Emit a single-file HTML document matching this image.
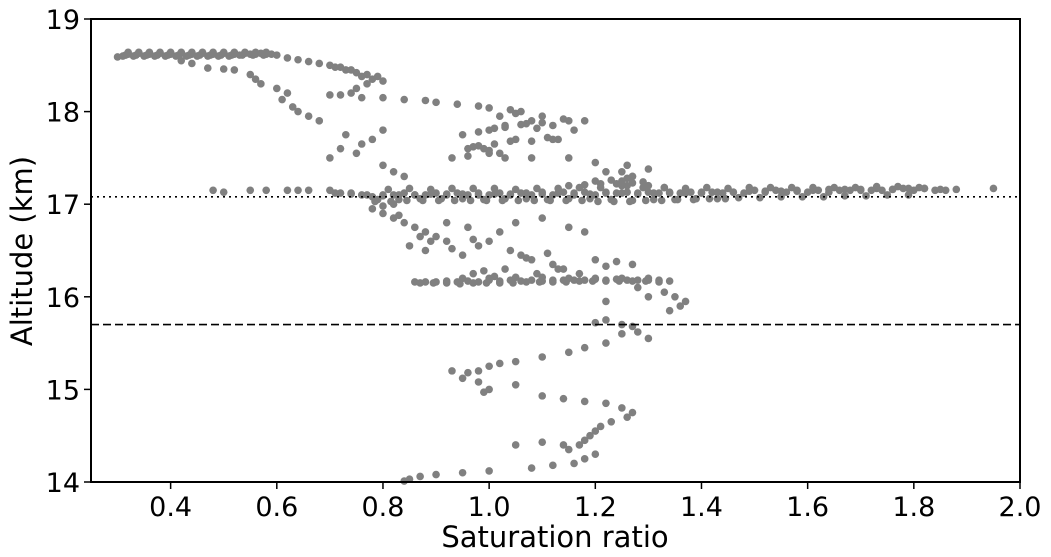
<!DOCTYPE html>
<html><head><meta charset="utf-8"><style>
body{margin:0;background:#fff;}
svg{display:block;font-family:"DejaVu Sans","Liberation Sans",sans-serif;}
</style></head><body>
<svg id="chart" width="1051" height="557">
<rect x="91" y="19" width="929" height="463" fill="#fff"/>
<g id="points"></g>
<g id="ref"></g>
<rect x="91" y="19" width="929" height="463" fill="none" stroke="#000" stroke-width="2"/>
<g id="xt"></g>
<g id="yt"></g>
<text x="555" y="547" font-size="29" text-anchor="middle">Saturation ratio</text>
<text transform="translate(32,251) rotate(-90)" font-size="29" text-anchor="middle">Altitude (km)</text>
</svg>
<script>
const xTicks=[0.4,0.6,0.8,1.0,1.2,1.4,1.6,1.8,2.0];
const xTickLabels=["0.4","0.6","0.8","1.0","1.2","1.4","1.6","1.8","2.0"];
const yTicks=[14,15,16,17,18,19];
const tropopauseAlt=17.08;
const lowerAlt=15.70;
const topBandX=[0.30,0.31,0.32,0.33,0.34,0.35,0.36,0.37,0.38,0.39,0.40,0.41,0.42,0.43,0.44,0.45,0.46,0.47,0.48,0.49,0.50,0.51,0.52,0.53,0.54,0.55,0.56,0.57,0.58,0.59,0.60,0.32,0.34,0.36,0.38,0.40,0.42,0.44,0.46,0.48,0.50,0.52,0.54,0.56,0.58,0.315,0.335,0.355,0.375,0.395,0.415,0.435,0.455,0.475,0.495,0.515,0.535,0.555,0.575];
const topBandY=[18.59,18.6,18.62,18.6,18.63,18.6,18.62,18.6,18.63,18.6,18.62,18.6,18.63,18.6,18.62,18.6,18.63,18.6,18.62,18.6,18.63,18.6,18.62,18.61,18.63,18.62,18.62,18.63,18.62,18.62,18.61,18.64,18.64,18.64,18.64,18.64,18.64,18.64,18.64,18.64,18.64,18.64,18.64,18.64,18.64,18.61,18.61,18.61,18.61,18.61,18.61,18.61,18.61,18.61,18.61,18.61,18.61,18.61,18.61];
const upperX=[0.42,0.44,0.47,0.50,0.52,0.55,0.56,0.57,0.60,0.62,0.61,0.63,0.64,0.66,0.68,0.62,0.64,0.66,0.68,0.70,0.72,0.73,0.75,0.76,0.78,0.80,0.77,0.75,0.74,0.72,0.70,0.76,0.80,0.84,0.88,0.90,0.94,0.98,1.00,1.04,1.06,1.10,1.14,1.18,0.95,0.98,1.00,1.03,1.06,1.10,1.15,0.96,0.98,1.00,1.02,1.05,1.08,1.12,0.93,0.96,1.00,1.03,1.08,1.15,1.20,1.26,1.30,0.72,0.75,0.78,0.80,0.73,0.76,0.70,0.80,0.82,0.84,1.02,1.05,1.08,1.12,1.16,1.25,1.27,0.71,0.74,0.77,0.79,1.01,1.03,1.07,1.09,1.11,1.13,0.97,0.99,1.01,1.04];
const upperY=[18.55,18.52,18.47,18.46,18.45,18.40,18.35,18.30,18.25,18.20,18.13,18.05,18.00,17.95,17.90,18.58,18.56,18.54,18.52,18.50,18.48,18.45,18.42,18.38,18.35,18.33,18.30,18.25,18.20,18.18,18.18,18.15,18.15,18.13,18.12,18.10,18.08,18.06,18.04,18.02,18.00,17.95,17.92,17.90,17.75,17.78,17.80,17.83,17.86,17.88,17.90,17.60,17.63,17.58,17.55,17.70,17.68,17.70,17.50,17.52,17.55,17.50,17.50,17.50,17.45,17.42,17.38,17.60,17.55,17.70,17.80,17.75,17.65,17.50,17.42,17.35,17.30,17.95,17.98,17.9,17.85,17.8,17.35,17.3,18.48,18.45,18.4,18.38,17.82,17.85,17.87,17.82,17.72,17.7,17.62,17.6,17.65,17.68];
const midBandX=[0.48,0.50,0.55,0.58,0.62,0.64,0.66,0.70,0.72,0.74,0.76,0.78,0.80,0.82,0.84,0.86,0.88,0.90,0.92,0.94,0.96,0.98,1.00,1.02,1.04,1.06,1.08,1.10,1.12,1.14,1.16,1.18,1.20,1.22,1.24,1.26,1.28,1.30,1.32,1.34,1.36,1.38,1.40,1.42,1.44,1.46,1.48,1.50,1.52,1.54,1.56,1.58,1.60,1.62,1.64,1.66,1.68,1.70,1.72,1.74,1.76,1.78,1.80,1.82,1.84,1.86,1.88,1.95,0.79,0.83,0.87,0.91,0.95,0.99,1.03,1.07,1.11,1.15,1.19,1.23,1.27,1.31,1.35,1.39,1.43,1.47,1.51,1.55,1.59,1.63,1.67,1.71,1.75,1.79,0.81,0.85,0.89,0.93,0.97,1.01,1.05,1.09,1.13,1.17,1.21,1.25,1.29,1.33,1.37,1.41,1.45,1.49,1.53,1.57,1.61,1.65,1.69,1.73,1.77,1.81,0.80,0.82,1.25,1.27,1.22,1.26];
const midBandY=[17.15,17.13,17.15,17.15,17.15,17.15,17.15,17.15,17.12,17.12,17.1,17.08,17.1,17.1,17.12,17.1,17.1,17.12,17.1,17.12,17.1,17.12,17.1,17.12,17.1,17.12,17.1,17.13,17.1,17.13,17.1,17.13,17.1,17.13,17.12,17.13,17.12,17.13,17.12,17.13,17.12,17.13,17.12,17.13,17.12,17.13,17.12,17.15,17.13,17.15,17.13,17.15,17.13,17.15,17.13,17.15,17.15,17.15,17.15,17.15,17.16,17.17,17.15,17.17,17.15,17.15,17.16,17.17,17.05,17.05,17.06,17.06,17.06,17.05,17.06,17.06,17.05,17.06,17.06,17.05,17.04,17.05,17.05,17.06,17.06,17.07,17.07,17.08,17.08,17.08,17.09,17.09,17.1,17.1,17.16,17.17,17.16,17.17,17.17,17.17,17.16,17.17,17.17,17.18,17.18,17.2,17.18,17.18,17.17,17.18,17.17,17.18,17.18,17.18,17.18,17.18,17.18,17.19,17.19,17.18,16.98,17.0,17.25,17.3,17.35,17.2];
const midBand2X=[0.71,0.74,0.77,0.80,0.83,0.86,0.89,0.92,0.95,0.98,1.01,1.04,1.07,1.10,1.13,1.16,1.19,1.22,1.25,1.28,1.31,1.34,1.37,1.40,1.43,1.46,1.49,1.52,1.55,1.58,1.61,1.64,1.67,1.70,1.73,1.76,1.79,1.82,1.85,0.785,0.815,0.845,0.875,0.905,0.935,0.965,0.995,1.025,1.055,1.085,1.115,1.145,1.175,1.205,1.235,1.265,1.295,1.325,1.355,1.385,1.415,1.445,1.15,1.18,1.21,1.24,1.27,1.30,1.33,1.20,1.23,1.26,1.29];
const midBand2Y=[17.12,17.11,17.1,17.09,17.1,17.1,17.11,17.11,17.11,17.1,17.11,17.11,17.12,17.11,17.12,17.12,17.11,17.12,17.12,17.11,17.12,17.12,17.12,17.13,17.13,17.13,17.14,17.14,17.14,17.14,17.15,17.16,17.16,17.16,17.17,17.16,17.17,17.17,17.16,17.03,17.03,17.04,17.04,17.04,17.04,17.04,17.04,17.04,17.04,17.04,17.04,17.04,17.04,17.03,17.03,17.03,17.04,17.04,17.05,17.05,17.06,17.06,17.2,17.21,17.22,17.22,17.23,17.2,17.18,17.25,17.26,17.28,17.24];
const lowerX=[0.78,0.80,0.82,0.84,0.86,0.88,0.90,0.92,0.85,0.88,0.95,0.98,1.00,1.02,1.05,1.10,1.15,1.18,0.92,0.96,1.04,1.06,1.08,1.12,1.20,1.24,1.27,0.86,0.88,0.90,0.92,0.94,0.96,0.98,1.00,1.02,1.04,1.06,1.08,1.10,1.12,1.14,1.16,1.18,1.20,1.22,1.24,1.26,1.28,1.30,1.32,1.34,0.95,1.00,1.05,1.10,1.15,1.20,1.25,1.30,1.33,1.35,1.37,1.36,1.34,1.28,1.30,1.22,1.20,1.22,1.25,1.27,1.28,1.30,1.25,1.22,1.18,1.15,1.10,1.05,1.02,1.00,0.98,0.96,0.93,0.95,0.98,1.00,0.99,1.05,1.10,1.14,1.18,1.22,1.25,1.27,1.26,1.23,1.21,1.20,1.19,1.18,1.17,1.15,1.20,1.18,1.16,1.12,1.08,1.05,1.10,1.14,1.00,0.95,0.90,0.87,0.85,0.84];
const lowerY=[16.95,16.90,16.85,16.80,16.75,16.70,16.65,16.60,16.55,16.50,16.45,16.55,16.60,16.70,16.80,16.85,16.75,16.70,16.80,16.75,16.50,16.45,16.40,16.35,16.40,16.38,16.35,16.16,16.16,16.16,16.17,16.16,16.17,16.16,16.18,16.17,16.18,16.17,16.18,16.17,16.18,16.18,16.18,16.18,16.19,16.18,16.19,16.18,16.18,16.18,16.18,16.17,16.2,16.2,16.21,16.21,16.2,16.2,16.2,16.2,16.05,16.0,15.95,15.9,15.85,16.1,16.0,15.95,15.72,15.75,15.7,15.68,15.62,15.55,15.6,15.5,15.45,15.4,15.35,15.3,15.28,15.25,15.2,15.18,15.2,15.12,15.08,15.0,14.97,15.05,14.93,14.9,14.87,14.85,14.8,14.75,14.7,14.65,14.6,14.55,14.5,14.45,14.4,14.35,14.3,14.25,14.2,14.18,14.15,14.4,14.43,14.4,14.12,14.1,14.08,14.06,14.03,14.01];
const lowBand2X=[0.87,0.895,0.92,0.945,0.97,0.995,1.02,1.045,1.07,1.095,1.12,1.145,1.17,1.195,1.22,1.245,1.27,1.295,1.32,0.97,0.99,1.01,1.03,1.07,1.11,1.13,0.83,0.87,0.89,0.93,0.97,1.09,1.14,1.17,1.22];
const lowBand2Y=[16.15,16.15,16.15,16.14,16.15,16.15,16.15,16.15,16.16,16.16,16.16,16.16,16.17,16.17,16.17,16.17,16.17,16.17,16.16,16.25,16.28,16.22,16.3,16.42,16.47,16.3,16.88,16.65,16.6,16.52,16.62,16.25,16.3,16.25,16.33];
const xMin=0.25,xMax=2.0,yMin=14,yMax=19;
const L=91,R=1020,T=19,B=482;
const sx=v=>L+(v-xMin)/(xMax-xMin)*(R-L);
const sy=v=>B-(v-yMin)/(yMax-yMin)*(B-T);
const NS="http://www.w3.org/2000/svg";
const pg=document.getElementById('points');
function plot(xs,ys){
  for(let i=0;i<xs.length;i++){
    const c=document.createElementNS(NS,'circle');
    c.setAttribute('cx',sx(xs[i]));c.setAttribute('cy',sy(ys[i]));c.setAttribute('r',3.8);c.setAttribute('fill','#808080');
    
    
    pg.appendChild(c);
  }
}
plot(topBandX,topBandY);plot(upperX,upperY);plot(midBandX,midBandY);plot(midBand2X,midBand2Y);plot(lowerX,lowerY);plot(lowBand2X,lowBand2Y);
const rg=document.getElementById('ref');
[[tropopauseAlt,'2,4','tropopause-line'],[lowerAlt,'8,4','lower-reference-line']].forEach(d=>{
  const l=document.createElementNS(NS,'line');
  l.setAttribute('x1',L);l.setAttribute('x2',R);l.setAttribute('y1',sy(d[0]));l.setAttribute('y2',sy(d[0]));
  l.setAttribute('stroke','#000');l.setAttribute('stroke-width',1.6);l.setAttribute('stroke-dasharray',d[1]);
  
  
  rg.appendChild(l);
});
const xg=document.getElementById('xt');
xTicks.forEach((v,i)=>{
  const l=document.createElementNS(NS,'line');
  l.setAttribute('x1',sx(v));l.setAttribute('x2',sx(v));l.setAttribute('y1',B);l.setAttribute('y2',B+7);l.setAttribute('stroke','#000');l.setAttribute('stroke-width',1.5);
  
  
  xg.appendChild(l);
  const t=document.createElementNS(NS,'text');
  t.setAttribute('x',sx(v));t.setAttribute('y',516);t.setAttribute('font-size',27);t.setAttribute('text-anchor','middle');
  t.textContent=xTickLabels[i];
  
  
  xg.appendChild(t);
});
const yg=document.getElementById('yt');
yTicks.forEach(v=>{
  const l=document.createElementNS(NS,'line');
  l.setAttribute('x1',L-7);l.setAttribute('x2',L);l.setAttribute('y1',sy(v));l.setAttribute('y2',sy(v));l.setAttribute('stroke','#000');l.setAttribute('stroke-width',1.5);
  
  
  yg.appendChild(l);
  const t=document.createElementNS(NS,'text');
  t.setAttribute('x',L-11);t.setAttribute('y',sy(v)+10);t.setAttribute('font-size',27);t.setAttribute('text-anchor','end');
  t.textContent=String(v);
  
  
  yg.appendChild(t);
});
</script>
</body></html>
